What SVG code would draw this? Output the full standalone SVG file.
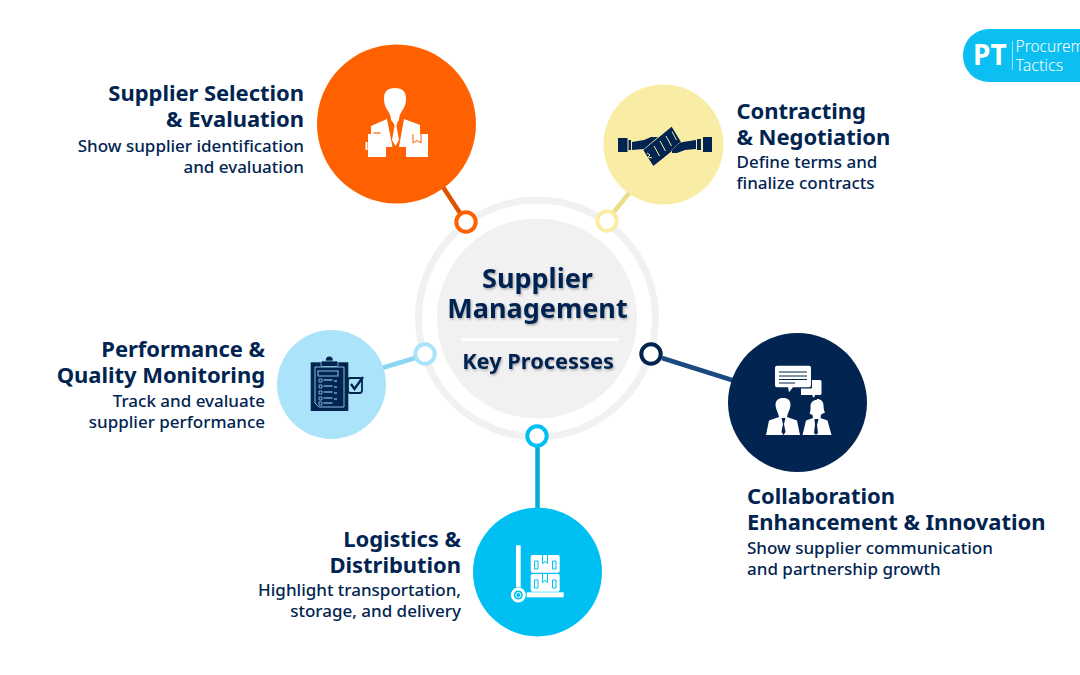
<svg xmlns="http://www.w3.org/2000/svg" width="1080" height="675" viewBox="0 0 1080 675">
<defs>
<filter id="ts" x="-10%" y="-30%" width="120%" height="170%"><feDropShadow dx="1" dy="1.5" stdDeviation="1.2" flood-color="#000" flood-opacity="0.3"/></filter>
</defs>
<style>
text{font-family:"Noto Sans","Open Sans","Liberation Sans",sans-serif;fill:#012451}
.t{font-size:22px;font-weight:700;letter-spacing:-.05px}
.d{font-size:17px;font-weight:500}
.r{text-anchor:end}
.c{text-anchor:middle;font-weight:700;filter:url(#ts)}
.n{fill:#fff;stroke-width:4}
.l{fill:none;stroke-width:4.5}
.w{fill:#fff}
.v{fill:#012451}
</style>
<rect width="1080" height="675" fill="#fff"/>
<g id="hub">
<circle cx="537" cy="318.500" r="118.500" fill="none" stroke="#f1f1f1" stroke-width="7"/>
<circle cx="537" cy="318.500" r="100" fill="#f1f1f1"/>
<text class="c" x="537.500" y="288" font-size="27">Supplier</text>
<text class="c" x="537.500" y="318" font-size="27">Management</text>
<rect x="461" y="338" width="158" height="3" fill="#fff"/>
<text class="c" x="538" y="369" font-size="21.800">Key Processes</text>
</g>
<g id="connectors">
<line class="l" x1="441" y1="184" x2="460" y2="213" stroke="#d95300"/>
<line class="l" x1="630" y1="192" x2="613" y2="213" stroke="#ebdf8c"/>
<line class="l" x1="382" y1="368" x2="415" y2="358" stroke="#8ad5f0"/>
<line class="l" x1="662" y1="358" x2="735" y2="381" stroke="#1a4a80"/>
<line class="l" x1="537.500" y1="447" x2="537.500" y2="510" stroke="#00add8"/>
<circle class="n" cx="466" cy="222" r="9.700" stroke="#ff6000"/>
<circle class="n" cx="607" cy="221" r="9.700" stroke="#f9eda6"/>
<circle class="n" cx="425" cy="354" r="9.700" stroke="#abe3fa"/>
<circle class="n" cx="651" cy="354" r="9.700" stroke="#012451"/>
<circle class="n" cx="537" cy="436" r="9.700" stroke="#00c0f3"/>
</g>
<g id="node-selection">
<circle cx="396.500" cy="124" r="79.500" fill="#ff6000"/>
<path class="w" d="M395 88c7.500 0 11 3.500 11 11 0 5-1.500 8-4 12-2 3-3 6-3 9l-4 5-4-5c0-3-1-6-3-9-2.500-4-4-7-4-12 0-7.500 3.500-11 11-11z"/>
<path class="w" d="M371 126l16-7 5.500 28h-6.500v-13h-15zM420 125l-16-6-5 28h7v-13h14zM393.500 122h4l-1 4 2.500 14-3.500 6-3.500-6 2.500-14z"/>
<path class="w" d="M368 134h4v-2.500h10v2.500h4v23h-18zM365.500 142h2v8h-2zM406 134h22v23h-22z"/>
<path d="M373.500 133h7" stroke="#ff6000" stroke-width="1.200" fill="none"/>
<path d="M413 134v9l4-2.500 4 2.500v-9" fill="none" stroke="#ff6000" stroke-width="1"/>
<text class="t r" x="304" y="101">Supplier Selection</text>
<text class="t r" x="304" y="127">&amp; Evaluation</text>
<text class="d r" x="304" y="152">Show supplier identification</text>
<text class="d r" x="304" y="173">and evaluation</text>
</g>
<g id="node-contracting">
<circle cx="663.500" cy="144.500" r="60" fill="#f9eda6"/>
<path class="v" d="M671.700 126.700l10 16.600-28.400 22.700-10-16z"/>
<path d="M654 146l5.500 10M660 141l5.500 10M666 136l5.500 10M672 131.500l4.500 8.500M647 153l3 2-2 2 4 1" fill="none" stroke="#f9eda6" stroke-width="1"/>
<path class="v" d="M618 138h9.500v14h-9.500zM628.500 140h2.500v10h-2.500zM703 137h9v15h-9zM697 139h4v11h-4z"/>
<path class="v" d="M632 142l12-2 7-3 7 0-6 5-8 7-12 1zM696 140l-13 2-5 2-6 6 0 3 5 0 8-3 11-1z" stroke="#f9eda6" stroke-width=".7" paint-order="stroke"/>
<text class="t" x="736.500" y="119">Contracting</text>
<text class="t" x="736.500" y="145">&amp; Negotiation</text>
<text class="d" x="736.500" y="168">Define terms and</text>
<text class="d" x="736.500" y="189">finalize contracts</text>
</g>
<g id="node-performance">
<circle cx="331.500" cy="384.500" r="54.500" fill="#abe3fa"/>
<rect class="v" x="310.700" y="362.300" width="37.600" height="48.700"/>
<circle class="v" cx="329.300" cy="360" r="3.500"/>
<rect x="321" y="361" width="17" height="5.500" rx="1.500" class="v" stroke="#abe3fa" stroke-width=".7"/>
<path d="M315 367h29v40h-25l-4-4z" fill="none" stroke="#abe3fa" stroke-width=".8"/>
<rect x="318" y="371" width="20" height="5" fill="none" stroke="#abe3fa" stroke-width=".8"/>
<path d="M319 379h3v3h-3zM319 385h3v3h-3zM319 391h3v3h-3zM319 397h3v3h-3zM319 402h3v3h-3z" fill="none" stroke="#abe3fa" stroke-width=".7"/>
<path d="M323.500 380h9M334 381h3M323.500 386h9M334 387h3M323.500 392h9M334 393h3M323.500 398h9M334 399h3M323.500 403h9" fill="none" stroke="#abe3fa" stroke-width="1"/>
<rect x="348" y="378" width="14" height="15" rx="2.500" fill="#abe3fa" stroke="#012451" stroke-width="1.800"/>
<path d="M351 384l3.500 5 8.500-12" fill="none" stroke="#012451" stroke-width="2.400"/>
<text class="t r" x="265" y="357">Performance &amp;</text>
<text class="t r" x="265" y="383">Quality Monitoring</text>
<text class="d r" x="265" y="407">Track and evaluate</text>
<text class="d r" x="265" y="428">supplier performance</text>
</g>
<g id="node-collaboration">
<circle cx="797.500" cy="402.500" r="69.500" fill="#012451"/>
<path class="w" d="M777 365.700h32a2 2 0 0 1 2 2v17.600a2 2 0 0 1-2 2h-16l-4 5-1-5h-11a2 2 0 0 1-2-2v-17.600a2 2 0 0 1 2-2z"/>
<path d="M779 372h28M779 376h28M779 379.500h28M779 383h16" stroke="#012451" stroke-width="1" fill="none"/>
<path class="w" d="M812 380h8a1.500 1.500 0 0 1 1.500 1.500v12a1.500 1.500 0 0 1-1.500 1.500h-5l-1 3-2-3h-11v-6.500h10a1 1 0 0 0 1-1z"/>
<path class="w" d="M783.500 398c4.500 0 7 2.500 7 7 0 4-3 8-3.500 12l10 3.500 3 14.500h-34l3-14.500 10-3.500c-.5-4-3.500-8-3.500-12 0-4.500 3-7 7.500-7z"/>
<path d="M781.500 418l1.500 6-1.500 8 2 3 2-3-1.500-8 1.500-6z" fill="#012451"/>
<path class="w" d="M817 399c4 0 6.500 2.500 6.500 6.500 0 3 .5 5 1.500 7l-4 2-.5 3.500 7 2.500 4 14.500h-29l3.500-14.500 7-2.500-.5-3-3-1.500c1-2 1-4 1-7 0-4 2.500-6.500 6-6.500z"/>
<path d="M814.500 419h4l-1.500 6 1 8-2 2-2-2 1-8z" fill="#012451"/>
<text class="t" x="747" y="504">Collaboration</text>
<text class="t" x="747" y="530">Enhancement &amp; Innovation</text>
<text class="d" x="747" y="554">Show supplier communication</text>
<text class="d" x="747" y="575">and partnership growth</text>
</g>
<g id="node-logistics">
<circle cx="537.500" cy="572" r="64.500" fill="#00c0f3"/>
<rect class="w" x="516" y="545.300" width="4.700" height="42" />
<circle cx="518.300" cy="595" r="6" fill="none" stroke="#fff" stroke-width="3"/>
<circle cx="518.300" cy="595" r="2.500" fill="none" stroke="#fff" stroke-width="1"/>
<rect class="w" x="526.700" y="592.300" width="37" height="5"/>
<rect class="w" x="530.700" y="555" width="29" height="17.700" rx="2"/>
<rect class="w" x="530.700" y="574" width="29" height="17.700" rx="2"/>
<path d="M542.500 555v8.500l2.500-2 2.500 2v-8.500M542.500 574v8.500l2.500-2 2.500 2v-8.500" fill="none" stroke="#00c0f3" stroke-width="1"/>
<path d="M534.500 561h3.500v8h-3.500zM552.500 561h3.500v8h-3.500zM534.500 580h3.500v8h-3.500zM552.500 580h3.500v8h-3.500z" fill="none" stroke="#00c0f3" stroke-width="1"/>
<text class="t r" x="461" y="547">Logistics &amp;</text>
<text class="t r" x="461" y="573">Distribution</text>
<text class="d r" x="461" y="596">Highlight transportation,</text>
<text class="d r" x="461" y="617">storage, and delivery</text>
</g>
<g id="logo">
<path d="M1080 29h-91a26 26 0 0 0-26 26v1a26 26 0 0 0 26 26h91z" fill="#0bbff2"/>
<text x="973" y="65" font-size="28" font-weight="700" style="fill:#fff">PT</text>
<rect x="1012" y="41" width=".8" height="29" fill="#bfeefc"/>
<text x="1015.500" y="52" font-size="15.500" font-weight="300" style="fill:#fff">Procurem</text>
<text x="1015.500" y="71" font-size="16" font-weight="300" style="fill:#fff">Tactics</text>
</g>
</svg>
